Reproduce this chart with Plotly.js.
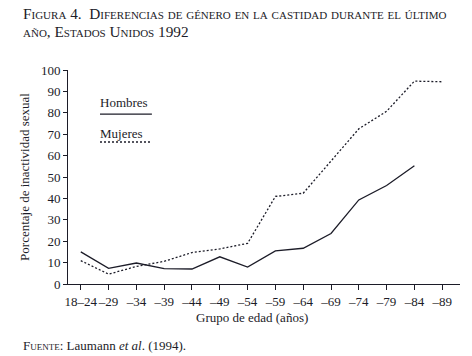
<!DOCTYPE html>
<html>
<head>
<meta charset="utf-8">
<script src="https://cdn.plot.ly/plotly-3.0.1.min.js"></script>
<style>html,body{margin:0;padding:0;background:#fff}#chart{width:472px;height:356px}</style>
</head>
<body>
<div id="chart"></div>
<script>
const ageGroups = ["18–24","–29","–34","–39","–44","–49","–54","–59","–64","–69","–74","–79","–84","–89"];
const hombres = [15, 7.3, 9.8, 7.2, 7, 12.7, 7.9, 15.5, 16.7, 23.6, 39.3, 46, 55.3, null];
const mujeres = [10.9, 4.6, 8.2, 10.6, 14.7, 16.4, 19, 40.9, 42.4, 57.4, 72.5, 80.7, 94.8, 94.5];
const yTicks = [0,10,20,30,40,50,60,70,80,90,100];

const FONT = "Liberation Serif";
const INK = "#1c1c28";

const traces = [
  {x: ageGroups, y: hombres, type: "scatter", mode: "lines", name: "Hombres",
   line: {color: INK, width: 1.3}, showlegend: false},
  {x: ageGroups, y: mujeres, type: "scatter", mode: "lines", name: "Mujeres",
   line: {color: INK, width: 1.3, dash: "2px,2px"}, showlegend: false}
];

const layout = {
  width: 472, height: 356,
  margin: {l: 68, r: 12, t: 70, b: 72},
  paper_bgcolor: "#fff", plot_bgcolor: "#fff",
  font: {family: FONT, color: INK, size: 13},
  xaxis: {
    type: "category", range: [-0.46, 13.64], tickangle: 0,
    tickvals: ageGroups, ticktext: ageGroups,
    showgrid: false, zeroline: false, showline: true, linecolor: INK, linewidth: 1,
    ticks: "outside", ticklen: 5, tickcolor: INK, tickwidth: 1,
    tickfont: {family: FONT, size: 13, color: INK}
  },
  yaxis: {
    range: [0, 100], tickvals: yTicks,
    showgrid: false, zeroline: false, showline: true, linecolor: INK, linewidth: 1,
    ticks: "outside", ticklen: 4, tickcolor: INK, tickwidth: 1,
    tickfont: {family: FONT, size: 13, color: INK},
    title: {text: "Porcentaje de inactividad sexual", font: {family: FONT, size: 13, color: INK}, standoff: 8}
  },
  annotations: [
    {xref: "paper", yref: "paper", x: -0.12, y: 1.0, yshift: 67, xanchor: "left", yanchor: "top", align: "left",
     showarrow: false,
     text: "Figura 4.  Diferencias de género en la castidad durante el último",
     font: {family: FONT, size: 15.3, color: INK, variant: "small-caps"}},
    {xref: "paper", yref: "paper", x: -0.12, y: 1.0, yshift: 49, xanchor: "left", yanchor: "top", align: "left",
     showarrow: false,
     text: "año, Estados Unidos 1992",
     font: {family: FONT, size: 15.3, color: INK, variant: "small-caps"}},
    {xref: "paper", yref: "paper", x: 0.47, y: 0, yshift: -24, xanchor: "center", yanchor: "top",
     showarrow: false, text: "Grupo de edad (años)", font: {family: FONT, size: 13, color: INK}},
    {xref: "paper", yref: "paper", x: -0.12, y: 0, yshift: -52, xanchor: "left", yanchor: "top",
     showarrow: false, text: "<span style='font-variant:small-caps'>Fuente</span>: Laumann <i>et al</i>. (1994).",
     font: {family: FONT, size: 13, color: INK}},
    {xref: "paper", yref: "paper", x: 0.0816, y: 0.846, xanchor: "left", yanchor: "middle",
     showarrow: false, text: "Hombres", font: {family: FONT, size: 13, color: INK}, xshift: -2},
    {xref: "paper", yref: "paper", x: 0.0816, y: 0.7056, xanchor: "left", yanchor: "middle",
     showarrow: false, text: "Mujeres", font: {family: FONT, size: 13, color: INK}, xshift: -2}
  ],
  shapes: [
    {type: "line", xref: "paper", yref: "paper", x0: 0.0816, x1: 0.214, y0: 0.794, y1: 0.794,
     line: {color: INK, width: 1.3}},
    {type: "line", xref: "paper", yref: "paper", x0: 0.0816, x1: 0.214, y0: 0.6636, y1: 0.6636,
     line: {color: INK, width: 1.3, dash: "2px,2px"}}
  ]
};

Plotly.newPlot("chart", traces, layout, {displayModeBar: false, staticPlot: true});
</script>
</body>
</html>
